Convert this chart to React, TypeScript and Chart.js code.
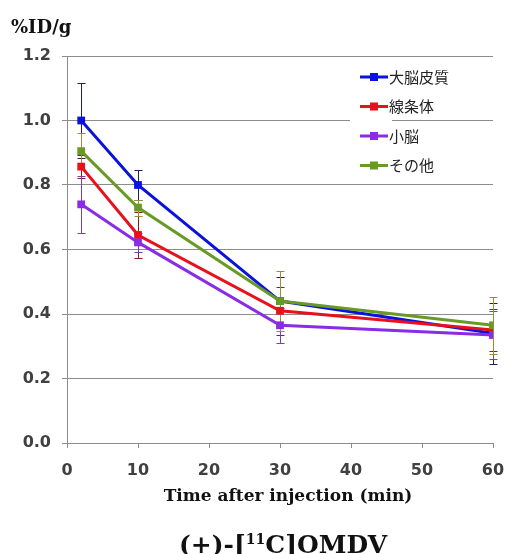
import React, { useEffect, useRef } from "react";
import { Chart, registerables } from "chart.js";

Chart.register(...registerables);

const times = [2, 10, 30, 60];
const seriesNames = ["大脳皮質", "線条体", "小脳", "その他"];
const cortex = [1.0, 0.8, 0.44, 0.34];
const cortexErr = [0.115, 0.045, 0.076, 0.095];
const striatum = [0.857, 0.645, 0.41, 0.35];
const striatumErr = [0.035, 0.07, 0.075, 0.065];
const cerebellum = [0.74, 0.622, 0.365, 0.335];
const cerebellumErr = [0.088, 0.03, 0.055, 0.075];
const other = [0.905, 0.73, 0.44, 0.365];
const otherErr = [0.055, 0.025, 0.093, 0.088];
const xTicks = [0, 10, 20, 30, 40, 50, 60];
const yTicks = [0, 0.2, 0.4, 0.6, 0.8, 1.0, 1.2];
const xTitle = "Time after injection (min)";
const yUnit = "%ID/g";

const colors = ["#0a12dc", "#e8101c", "#8a2be6", "#6a9a26"];
const errColors = ["#20205a", "#8a1e1e", "#7a40b0", "#a08a3a"];
const values = [cortex, striatum, cerebellum, other];
const errs = [cortexErr, striatumErr, cerebellumErr, otherErr];

const errorBarPlugin = {
  id: "errorBars",
  beforeDatasetsDraw(chart: any) {
    const ctx = chart.ctx;
    const xs = chart.scales.x;
    const ys = chart.scales.y;
    ctx.save();
    ctx.lineWidth = 1;
    values.forEach((vals, i) => {
      ctx.strokeStyle = errColors[i];
      vals.forEach((v, j) => {
        const x = Math.round(xs.getPixelForValue(times[j])) + 0.5;
        const yTop = Math.round(ys.getPixelForValue(v + errs[i][j])) + 0.5;
        const yBot = Math.round(ys.getPixelForValue(v - errs[i][j])) + 0.5;
        ctx.beginPath();
        ctx.moveTo(x, yTop);
        ctx.lineTo(x, yBot);
        ctx.moveTo(x - 4, yTop);
        ctx.lineTo(x + 4, yTop);
        ctx.moveTo(x - 4, yBot);
        ctx.lineTo(x + 4, yBot);
        ctx.stroke();
      });
    });
    ctx.restore();
  },
};

const decorPlugin = {
  id: "decor",
  afterDraw(chart: any) {
    const ctx = chart.ctx;
    const area = chart.chartArea;
    ctx.save();
    // y unit label
    ctx.fillStyle = "#111";
    ctx.font = "bold 18px 'DejaVu Serif'";
    ctx.textBaseline = "middle";
    ctx.textAlign = "left";
    ctx.fillText(yUnit, 11, 28);

    // x axis title
    ctx.font = "bold 17px 'DejaVu Serif'";
    ctx.textAlign = "center";
    ctx.fillText(xTitle, 288, 497);

    // legend
    const lx = area.right - 133;
    const ly0 = area.top + 21;
    const step = 29.5;
    ctx.fillStyle = "#fff";
    ctx.fillRect(lx - 10, ly0 - 14, 42, step * 4);
    seriesNames.forEach((name, i) => {
      const y = ly0 + i * step;
      ctx.strokeStyle = colors[i];
      ctx.lineWidth = 3;
      ctx.beginPath();
      ctx.moveTo(lx, y);
      ctx.lineTo(lx + 28, y);
      ctx.stroke();
      ctx.fillStyle = colors[i];
      ctx.fillRect(lx + 14 - 4, y - 4, 8, 8);
      ctx.fillStyle = "#222";
      ctx.font = "15px 'Noto Sans CJK JP'";
      ctx.textAlign = "left";
      ctx.textBaseline = "middle";
      ctx.fillText(name, lx + 29, y);
    });

    // compound title with superscript
    ctx.fillStyle = "#111";
    ctx.textAlign = "left";
    ctx.textBaseline = "alphabetic";
    const big = "bold 25px 'DejaVu Serif'";
    const small = "bold 14px 'DejaVu Serif'";
    const parts = [
      { t: "(+)-[", f: big, dy: 0 },
      { t: "11", f: small, dy: -9 },
      { t: "C]OMDV", f: big, dy: 0 },
    ];
    let total = 0;
    parts.forEach((p) => {
      ctx.font = p.f;
      total += ctx.measureText(p.t).width;
    });
    let x = 283 - total / 2;
    const base = 553;
    parts.forEach((p) => {
      ctx.font = p.f;
      ctx.fillText(p.t, x, base + p.dy);
      x += ctx.measureText(p.t).width;
    });
    ctx.restore();
  },
};

export default function App() {
  const ref = useRef<HTMLCanvasElement | null>(null);
  useEffect(() => {
    if (!ref.current) return;
    const tickFont = { family: "'DejaVu Sans'", size: 16, weight: "bold" };
    const chart = new Chart(ref.current, {
      type: "line",
      data: {
        datasets: values.map((vals, i) => ({
          label: seriesNames[i],
          data: vals.map((v, j) => ({ x: times[j], y: v })),
          borderColor: colors[i],
          backgroundColor: colors[i],
          borderWidth: 3,
          pointStyle: "rect",
          pointRadius: 5.5,
          pointBorderWidth: 0,
          order: [3, 2, 0, 1][i],
        })),
      },
      options: {
        animation: false,
        responsive: false,
        devicePixelRatio: 1,
        layout: { padding: { left: 4, right: 14, top: 56, bottom: 0 } },
        plugins: { legend: { display: false }, tooltip: { enabled: false }, title: { display: false } },
        scales: {
          x: {
            type: "linear",
            min: 0,
            max: 60,
            afterBuildTicks: (s: any) => {
              s.ticks = xTicks.map((v) => ({ value: v }));
            },
            afterFit: (s: any) => {
              s.height = 111;
              s.paddingLeft = 0;
              s.paddingRight = 0;
            },
            ticks: {
              color: "#404040",
              font: tickFont,
              padding: 13,
            },
            grid: { display: true, drawOnChartArea: false, color: "#8c8c8c", tickLength: 5 },
            border: { color: "#8c8c8c", width: 1 },
          },
          y: {
            type: "linear",
            min: 0,
            max: 1.2,
            afterBuildTicks: (s: any) => {
              s.ticks = yTicks.map((v) => ({ value: v }));
            },
            afterFit: (s: any) => {
              s.width = 63;
              s.paddingTop = 0;
              s.paddingBottom = 0;
            },
            ticks: {
              color: "#404040",
              font: tickFont,
              padding: 11,
              callback: (v: any) => Number(v).toFixed(1),
            },
            grid: { color: "#8c8c8c", tickLength: 5 },
            border: { color: "#8c8c8c", width: 1 },
          },
        },
      },
      plugins: [errorBarPlugin, decorPlugin],
    } as any);
    return () => chart.destroy();
  }, []);
  return (
    <div style={{ position: "absolute", left: 0, top: 0, width: 507, height: 554, background: "#fff" }}>
      <canvas ref={ref} width={507} height={554} style={{ width: 507, height: 554 }} />
    </div>
  );
}
